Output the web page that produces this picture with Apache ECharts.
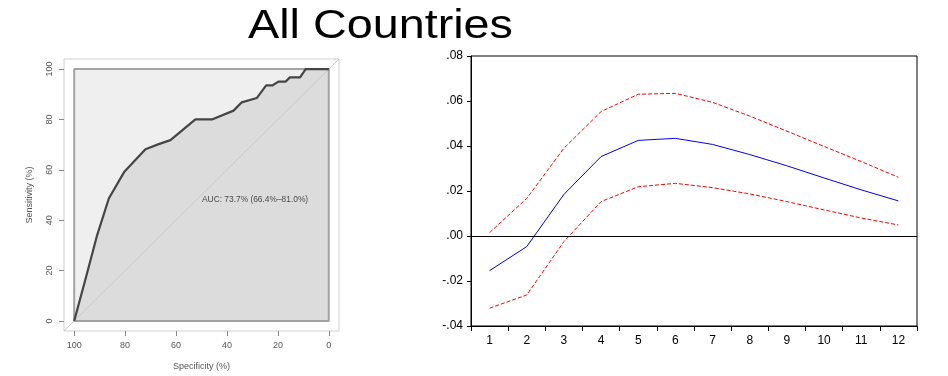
<!DOCTYPE html>
<html>
<head>
<meta charset="utf-8">
<script src="https://cdn.jsdelivr.net/npm/echarts@6/dist/echarts.min.js"></script>
<style>
html,body{margin:0;padding:0;background:#fff;}
#c{width:948px;height:376px;}
</style>
</head>
<body>
<div id="c"></div>
<script>
// ---- Title ----
const titleText = 'All Countries';

// ---- Left chart: ROC curve ----
const rocSpecificity = [100, 95, 91, 86.4, 80.4, 72.0, 66.8, 62.2, 52.4, 45.9, 37.4, 34.2, 28.3, 24.6, 22.2, 19.8, 17.0, 15.3, 11.3, 9.1, 0];
const rocSensitivity = [0, 18.7, 34, 48.6, 59.1, 68.2, 70.2, 71.8, 80, 80, 83.5, 86.8, 88.5, 93.5, 93.5, 95, 95, 96.7, 96.7, 100, 100];
const rocTicks = [0, 20, 40, 60, 80, 100];
const rocBoxX = [100, 100, 0, 0, 100];
const rocBoxY = [0, 100, 100, 0, 0];
const rocDiagX = [104, -4];
const rocDiagY = [-4, 104];
const aucText = 'AUC: 73.7% (66.4%\u201381.0%)';
const aucAt = [50, 48.3];

// ---- Right chart: impulse response ----
const periods = ['1','2','3','4','5','6','7','8','9','10','11','12'];
const irf   = [-0.0154, -0.0047, 0.0185, 0.0353, 0.0425, 0.0434, 0.0407, 0.0362, 0.0312, 0.0258, 0.0205, 0.0156];
const upper = [0.0015, 0.0167, 0.0390, 0.0553, 0.0630, 0.0634, 0.0594, 0.0533, 0.0466, 0.0398, 0.0331, 0.0261];
const lower = [-0.0321, -0.0262, -0.0025, 0.0153, 0.0219, 0.0234, 0.0215, 0.0187, 0.0153, 0.0116, 0.0080, 0.0049];
const irfMin = -0.04, irfMax = 0.08, irfStep = 0.02;

const zip = (a, b) => a.map((v, i) => [v, b[i]]);

const chart = echarts.init(document.getElementById('c'), null, {renderer: 'canvas'});
const leftFont = '"Liberation Sans", Arial, sans-serif';
const rightFont = '"Liberation Sans", Arial, sans-serif';

chart.setOption({
  animation: false,
  backgroundColor: '#ffffff',
  graphic: [{
    type: 'text',
    x: 380.5, y: 27,
    scaleX: 1.14,
    style: {
      text: titleText, x: 0, y: 0,
      align: 'center', verticalAlign: 'middle',
      font: '41px ' + rightFont, fill: '#000'
    }
  }],
  grid: [
    {left: 64, top: 59, width: 275, height: 275, show: true, borderColor: '#cfcfcf', borderWidth: 1, backgroundColor: '#fff'},
    {left: 471, top: 56, width: 446, height: 270, show: true, borderColor: '#000', borderWidth: 1}
  ],
  xAxis: [
    {
      gridIndex: 0, type: 'value', min: -4, max: 104, inverse: true,
      axisLine: {show: false, onZero: false},
      splitLine: {show: false},
      axisTick: {show: true, length: 5, customValues: rocTicks, lineStyle: {color: '#888'}},
      axisLabel: {customValues: rocTicks, margin: 10, fontSize: 9, color: '#555', fontFamily: leftFont},
      name: 'Specificity (%)', nameLocation: 'middle', nameGap: 31,
      nameTextStyle: {fontSize: 9, color: '#555', fontFamily: leftFont}
    },
    {
      gridIndex: 1, type: 'category', data: periods, boundaryGap: true,
      axisLine: {show: true, onZero: false, lineStyle: {color: '#000', width: 1}},
      axisTick: {show: true, length: 5, lineStyle: {color: '#000'}},
      axisLabel: {margin: 9, fontSize: 12, color: '#000', fontFamily: rightFont},
      splitLine: {show: false}
    }
  ],
  yAxis: [
    {
      gridIndex: 0, type: 'value', min: -4, max: 104,
      axisLine: {show: false, onZero: false},
      splitLine: {show: false},
      axisTick: {show: true, length: 5, customValues: rocTicks, lineStyle: {color: '#888'}},
      axisLabel: {customValues: rocTicks, rotate: 90, margin: 10, fontSize: 9, color: '#555', fontFamily: leftFont},
      name: 'Sensitivity (%)', nameLocation: 'middle', nameGap: 30,
      nameTextStyle: {fontSize: 9, color: '#555', fontFamily: leftFont}
    },
    {
      gridIndex: 1, type: 'value', min: irfMin, max: irfMax, interval: irfStep,
      axisLine: {show: true, onZero: false, lineStyle: {color: '#000', width: 1}},
      axisTick: {show: true, length: 4, lineStyle: {color: '#000'}},
      axisLabel: {
        margin: 8, fontSize: 12, color: '#000', fontFamily: rightFont,
        formatter: v => v.toFixed(2).replace('0.', '.')
      },
      splitLine: {show: false}
    }
  ],
  series: [
    // box background (upper region)
    {type: 'line', xAxisIndex: 0, yAxisIndex: 0, data: [[rocBoxX[1], rocBoxY[1]], [rocBoxX[2], rocBoxY[2]]],
     symbol: 'none', lineStyle: {width: 0}, areaStyle: {color: '#efefef', opacity: 1}, silent: true},
    // area under ROC curve
    {type: 'line', xAxisIndex: 0, yAxisIndex: 0, data: zip(rocSpecificity, rocSensitivity),
     symbol: 'none', lineStyle: {width: 0}, areaStyle: {color: '#dcdcdc', opacity: 1}, silent: true},
    // diagonal reference
    {type: 'line', xAxisIndex: 0, yAxisIndex: 0, data: zip(rocDiagX, rocDiagY),
     symbol: 'none', lineStyle: {color: '#c9c9c9', width: 1}, silent: true},
    // inner box border
    {type: 'line', xAxisIndex: 0, yAxisIndex: 0, data: zip(rocBoxX, rocBoxY),
     symbol: 'none', lineStyle: {color: '#a3a3a3', width: 2}, silent: true},
    // ROC curve
    {type: 'line', xAxisIndex: 0, yAxisIndex: 0, data: zip(rocSpecificity, rocSensitivity),
     symbol: 'none', lineStyle: {color: '#454545', width: 2.2}, silent: true},
    // AUC label
    {type: 'scatter', xAxisIndex: 0, yAxisIndex: 0, data: [aucAt], symbol: 'circle', symbolSize: 1,
     itemStyle: {color: 'rgba(0,0,0,0)'}, silent: true, z: 10,
     label: {show: true, position: 'right', distance: 0, formatter: aucText,
             fontSize: 8.4, color: '#1e1e1e', fontFamily: leftFont}},
    // IRF
    {type: 'line', xAxisIndex: 1, yAxisIndex: 1, data: upper, symbol: 'none',
     lineStyle: {color: '#ff0000', width: 1, type: [4, 2]}, silent: true},
    {type: 'line', xAxisIndex: 1, yAxisIndex: 1, data: lower, symbol: 'none',
     lineStyle: {color: '#ff0000', width: 1, type: [4, 2]}, silent: true},
    {type: 'line', xAxisIndex: 1, yAxisIndex: 1, data: irf, symbol: 'none',
     lineStyle: {color: '#0000ff', width: 1}, silent: true,
     markLine: {silent: true, symbol: 'none', label: {show: false},
                lineStyle: {color: '#000', width: 1, type: 'solid'}, data: [{yAxis: 0}]}}
  ]
});
</script>
</body>
</html>
